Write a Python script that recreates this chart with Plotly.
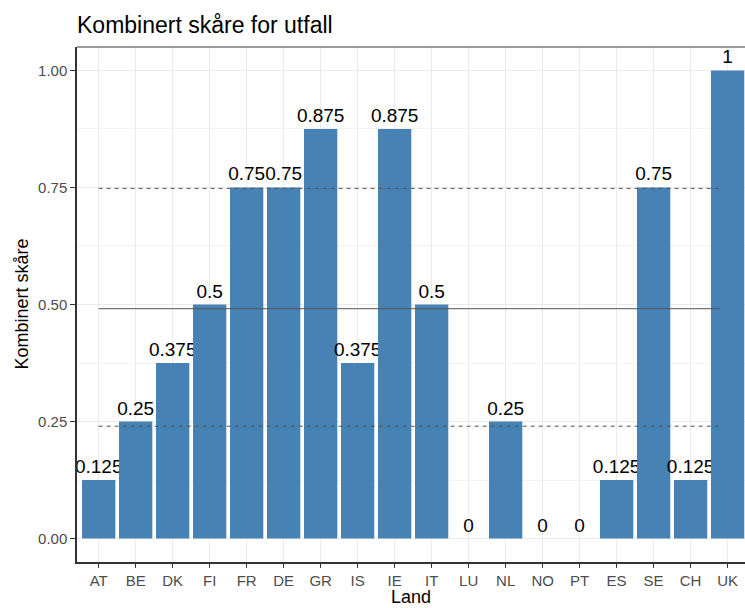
import plotly.graph_objects as go

# ---- data ----
countries = ["AT", "BE", "DK", "FI", "FR", "DE", "GR", "IS", "IE", "IT",
             "LU", "NL", "NO", "PT", "ES", "SE", "CH", "UK"]
scores = [0.125, 0.25, 0.375, 0.5, 0.75, 0.75, 0.875, 0.375, 0.875, 0.5,
          0, 0.25, 0, 0, 0.125, 0.75, 0.125, 1]
score_labels = ["0.125", "0.25", "0.375", "0.5", "0.75", "0.75", "0.875", "0.375", "0.875", "0.5",
                "0", "0.25", "0", "0", "0.125", "0.75", "0.125", "1"]
mean_score = 0.491
lower_band = 0.240
upper_band = 0.748
y_ticks = [0, 0.25, 0.5, 0.75, 1.0]
y_ticklabels = ["0.00", "0.25", "0.50", "0.75", "1.00"]

W, H = 745, 608
L, T, B = 77, 47, 46
PW, PH = W - L, H - T - B

fig = go.Figure()
fig.add_trace(go.Bar(
    x=countries, y=scores, width=0.9,
    marker=dict(color="#4682B4", line=dict(width=0)),
    text=score_labels, textposition="outside", constraintext="none",
    textfont=dict(family="Liberation Sans, Arial", size=19, color="#000000"),
    cliponaxis=True, showlegend=False, hoverinfo="x+y",
))

# reference lines (mean and band)
for val, dash in [(mean_score, "solid"), (lower_band, "dash"), (upper_band, "dash")]:
    fig.add_shape(type="line", xref="x", yref="y", x0=0, x1=16.8, y0=val, y1=val,
                  line=dict(color="#555555", width=1, dash="solid" if dash == "solid" else "4px,4px"),
                  layer="above")

# top panel border
fig.add_shape(type="line", xref="paper", yref="paper", x0=0, x1=1, y0=1, y1=1,
              line=dict(color="#7a7a7a", width=1.5), layer="above")

# axis titles
fig.add_annotation(text="Land", xref="paper", yref="paper", x=0.5, y=-(597 - (H - B)) / PH,
                   xanchor="center", yanchor="middle", showarrow=False,
                   font=dict(size=18, color="#000000"))
fig.add_annotation(text="Kombinert skåre", xref="paper", yref="paper", x=(21 - L) / PW, y=0.5,
                   xanchor="center", yanchor="middle", showarrow=False, textangle=-90,
                   font=dict(size=18, color="#000000"))

fig.update_layout(
    width=W, height=H,
    margin=dict(l=L, r=0, t=T, b=B, pad=0, autoexpand=False),
    paper_bgcolor="white", plot_bgcolor="white",
    font=dict(family="Liberation Sans, Arial", color="#000000"),
    title=dict(text="Kombinert skåre for utfall", x=L / W, xref="container", xanchor="left",
               y=1 - 25 / H, yref="container", yanchor="middle",
               font=dict(size=23, color="#000000")),
    bargap=0.1,
)

fig.update_xaxes(
    type="category", categoryorder="array", categoryarray=countries,
    range=[-0.586, 17.47], automargin=False,
    showgrid=True, gridcolor="#EBEBEB", gridwidth=1.1,
    showline=True, linecolor="#333333", linewidth=1.5,
    ticks="outside", ticklen=4, tickcolor="#333333", tickwidth=1.2,
    tickfont=dict(size=15, color="#4D4D4D"),
    zeroline=False,
)
fig.update_yaxes(
    range=[-0.05, 1.05], automargin=False,
    tickvals=y_ticks, ticktext=y_ticklabels,
    showgrid=True, gridcolor="#EBEBEB", gridwidth=1.1,
    minor=dict(tickvals=[0.125, 0.375, 0.625, 0.875], showgrid=True, gridcolor="#F3F3F3", gridwidth=0.8),
    showline=True, linecolor="#333333", linewidth=1.5,
    ticks="outside", ticklen=5, tickcolor="#333333", tickwidth=1.2,
    tickfont=dict(size=15, color="#4D4D4D"),
    zeroline=False,
)

fig.write_html("out.html", config={"displayModeBar": False},
               post_script="document.body.style.margin='0';document.body.style.overflow='hidden';")
